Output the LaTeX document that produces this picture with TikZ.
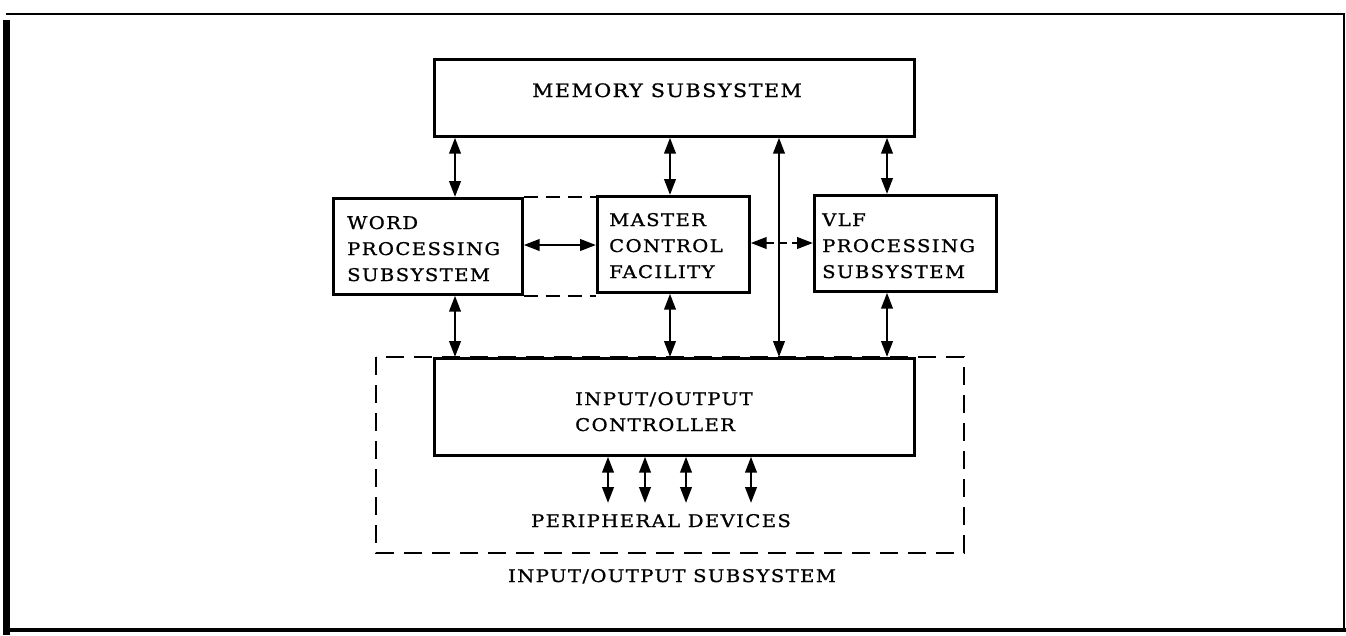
\documentclass[tikz,border=0pt]{standalone}
\usepackage{fontspec}
\setmainfont{DejaVu Serif}[LetterSpace=8,FakeStretch=1.12,FakeBold=1]
\usetikzlibrary{arrows.meta}
\begin{document}
\begin{tikzpicture}[x=1pt,y=-1pt,
  box/.style={draw, line width=2.7pt, inner sep=0pt, anchor=north west},
  txt/.style={anchor=base west, inner sep=0pt, font=\fontsize{17.5}{25}\selectfont},
  tip/.tip={Triangle[length=16pt,width=11.5pt]},
  dbl/.style={line width=2.5pt, tip-tip},
  dbldash/.style={line width=2.5pt, tip-tip, dash pattern=on 8pt off 5pt},
  grp/.style={draw, line width=2.3pt, dash pattern=on 18pt off 10pt},
  link/.style={line width=2.3pt, dash pattern=on 14pt off 8pt}]
\useasboundingbox (0,0) rectangle (1346,635);
% frame
\draw[line width=7pt] (6.5,20) -- (6.5,635);
\draw[line width=2pt] (6,14) -- (1344,14);
\draw[line width=2.5pt] (1344,13) -- (1344,630);
\draw[line width=4pt] (8,630) -- (1346,630);
% group
\draw[grp] (376,357) rectangle (964,553);
% boxes
\node[box, minimum width=480pt, minimum height=77pt] (mem) at (433,58) {};
\node[box, minimum width=189pt, minimum height=96pt] (word) at (332,197) {};
\node[box, minimum width=152pt, minimum height=96pt] (mcf) at (596,195) {};
\node[box, minimum width=182pt, minimum height=96pt] (vlf) at (813,194) {};
\node[box, fill=white, minimum width=480pt, minimum height=97pt] (ioc) at (433,357) {};
% texts
\node[txt, anchor=base, font=\fontsize{18.5}{25}\selectfont] (memt) at (667,97) {MEMORY SUBSYSTEM};
\node[txt] (w1) at (347,229) {WORD};
\node[txt] (w2) at (347,255) {PROCESSING};
\node[txt] (w3) at (347,281) {SUBSYSTEM};
\node[txt] (m1) at (609,226) {MASTER};
\node[txt] (m2) at (609,252) {CONTROL};
\node[txt] (m3) at (609,278) {FACILITY};
\node[txt] (v1) at (822,226) {VLF};
\node[txt] (v2) at (822,252) {PROCESSING};
\node[txt] (v3) at (822,278) {SUBSYSTEM};
\node[txt] (i1) at (575,405) {INPUT/OUTPUT};
\node[txt] (i2) at (575,431) {CONTROLLER};
\node[txt, anchor=base] (pd) at (661,527) {PERIPHERAL DEVICES};
\node[txt, anchor=base] (ios) at (672,582) {INPUT/OUTPUT SUBSYSTEM};
% column coordinates
\coordinate (c1) at (455,0);
\coordinate (c2) at (670,0);
\coordinate (c3) at (779,0);
\coordinate (c4) at (887,0);
\coordinate (p1) at (608,503);
\coordinate (p2) at (645,503);
\coordinate (p3) at (686,503);
\coordinate (p4) at (751,503);
% dashed links word-master
\draw[link] (word.north east) -- (word.north east -| mcf.west);
\draw[link] (word.south east) -- (word.south east -| mcf.west);
% connectors
\draw[dbl] (c1 |- mem.south) -- (c1 |- word.north);
\draw[dbl] (c2 |- mem.south) -- (c2 |- mcf.north);
\draw[dbl] (c3 |- mem.south) -- (c3 |- ioc.north);
\draw[dbl] (c4 |- mem.south) -- (c4 |- vlf.north);
\draw[dbl] (c1 |- word.south) -- (c1 |- ioc.north);
\draw[dbl] (c2 |- mcf.south) -- (c2 |- ioc.north);
\draw[dbl] (c4 |- vlf.south) -- (c4 |- ioc.north);
\draw[dbl] (word.east |- 0,245) -- (mcf.west |- 0,245);
\draw[dbldash] (mcf.east |- 0,243) -- (vlf.west |- 0,243);
\draw[dbl] (p1 |- ioc.south) -- (p1);
\draw[dbl] (p2 |- ioc.south) -- (p2);
\draw[dbl] (p3 |- ioc.south) -- (p3);
\draw[dbl] (p4 |- ioc.south) -- (p4);
\end{tikzpicture}
\end{document}
